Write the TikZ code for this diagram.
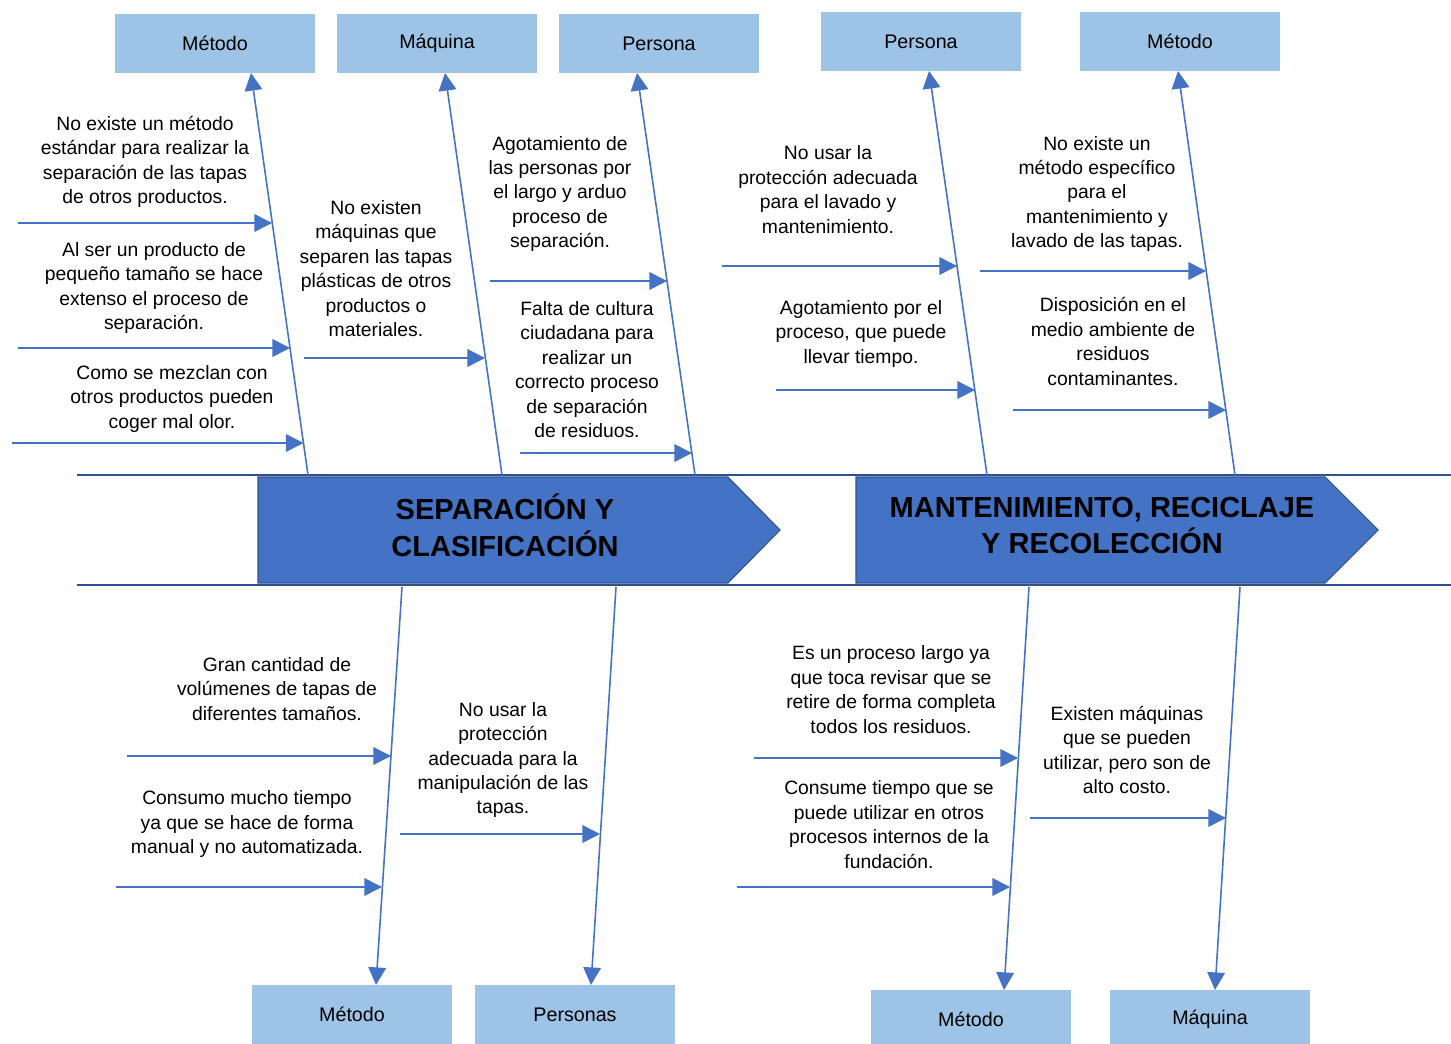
\documentclass[tikz,border=0pt]{standalone}
\usepackage{fontspec}
\setmainfont{Liberation Sans}
\usetikzlibrary{arrows.meta}
\definecolor{box_blue}{RGB}{157, 195, 230}
\definecolor{line_blue}{RGB}{68, 114, 196}
\definecolor{dark_blue}{RGB}{47, 82, 143}
\tikzstyle{cat}=[rectangle,fill=box_blue,draw=none,inner sep=0pt,
  minimum width=4cm,minimum height=1.18cm,font=\fontsize{11.2}{13}\selectfont]
\tikzstyle{cause}=[align=center,inner sep=0pt,font=\fontsize{11}{13.9}\selectfont]
\tikzstyle{head}=[align=center,inner sep=0pt,font=\fontsize{16.5}{21}\selectfont\bfseries]
\tikzstyle{rib}=[draw=line_blue,line width=0.9pt,-{Triangle[length=10pt,width=10pt]}]
\tikzstyle{spine}=[draw=dark_blue,line width=1.4pt]
\tikzstyle{chev}=[fill=line_blue,draw=dark_blue,line width=0.6pt]

\begin{document}
\begin{tikzpicture}[x=0.02cm,y=-0.02cm]
    \useasboundingbox (0,0) rectangle (1451,1044);
    % espina
    \coordinate (sl1) at (77,475);
    \coordinate (sr1) at (1451,475);
    \coordinate (sl2) at (77,585);
    \coordinate (sr2) at (1451,585);
    \draw[spine] (sl1) to (sr1);
    \draw[spine] (sl2) to (sr2);
    \path[chev] (258,477) -- (728,477) -- (780,530) -- (728,583) -- (258,583) -- cycle;
    \path[chev] (856,477) -- (1325,477) -- (1378,530) -- (1325,583) -- (856,583) -- cycle;
    \node [style=head] (sep) at (505,525.5) {SEPARACIÓN Y\\CLASIFICACIÓN};
    \node [style=head] (mant) at (1102,525.5) {MANTENIMIENTO, RECICLAJE\\Y RECOLECCIÓN};
    % categorias
    \node [style=cat] (metodo1) at (215,43.5) {Método};
    \node [style=cat] (maquina1) at (437,43.5) {Máquina};
    \node [style=cat] (persona1) at (659,43.5) {Persona};
    \node [style=cat] (persona2) at (921,41.5) {Persona};
    \node [style=cat] (metodo2) at (1180,41.5) {Método};
    \node [style=cat] (metodo3) at (352,1014.5) {Método};
    \node [style=cat] (persona3) at (575,1014.5) {Personas};
    \node [style=cat] (metodo4) at (971,1019.5) {Método};
    \node [style=cat] (maquina2) at (1210,1019.5) {Máquina};
    % espinas secundarias
    \coordinate (r1) at (308,475);
    \coordinate (r2) at (502,475);
    \coordinate (r3) at (695,475);
    \coordinate (r4) at (987,475);
    \coordinate (r5) at (1235,475);
    \coordinate (r6) at (402,587);
    \coordinate (r7) at (616,587);
    \coordinate (r8) at (1029,587);
    \coordinate (r9) at (1240,587);
    \coordinate (k1) at (251,73);
    \coordinate (k2) at (445,73);
    \coordinate (k3) at (637,73);
    \coordinate (k4) at (929,71);
    \coordinate (k5) at (1178,71);
    \coordinate (k6) at (376,985);
    \coordinate (k7) at (591,985);
    \coordinate (k8) at (1004,990);
    \coordinate (k9) at (1215,990);
    \draw[rib] (r1) to (k1);
    \draw[rib] (r2) to (k2);
    \draw[rib] (r3) to (k3);
    \draw[rib] (r4) to (k4);
    \draw[rib] (r5) to (k5);
    \draw[rib] (r6) to (k6);
    \draw[rib] (r7) to (k7);
    \draw[rib] (r8) to (k8);
    \draw[rib] (r9) to (k9);
    % causas
    \node [style=cause] (c1) at (145,162) {No existe un método\\estándar para realizar la\\separación de las tapas\\de otros productos.};
    \node [style=cause] (c2) at (154,288) {Al ser un producto de\\pequeño tamaño se hace\\extenso el proceso de\\separación.};
    \node [style=cause] (c3) at (172,399) {Como se mezclan con\\otros productos pueden\\coger mal olor.};
    \node [style=cause] (c4) at (376,268.5) {No existen\\máquinas que\\separen las tapas\\plásticas de otros\\productos o\\materiales.};
    \node [style=cause] (c5) at (560,194) {Agotamiento de\\las personas por\\el largo y arduo\\proceso de\\separación.};
    \node [style=cause] (c6) at (587,369.5) {Falta de cultura\\ciudadana para\\realizar un\\correcto proceso\\de separación\\de residuos.};
    \node [style=cause] (c7) at (828,189.5) {No usar la\\protección adecuada\\para el lavado y\\mantenimiento.};
    \node [style=cause] (c8) at (861,334) {Agotamiento por el\\proceso, que puede\\llevar tiempo.};
    \node [style=cause] (c9) at (1097,194) {No existe un\\método específico\\para el\\mantenimiento y\\lavado de las tapas.};
    \node [style=cause] (c10) at (1113,341.5) {Disposición en el\\medio ambiente de\\residuos\\contaminantes.};
    \node [style=cause] (c11) at (277,689) {Gran cantidad de\\volúmenes de tapas de\\diferentes tamaños.};
    \node [style=cause] (c12) at (247,824) {Consumo mucho tiempo\\ya que se hace de forma\\manual y no automatizada.};
    \node [style=cause] (c13) at (503,760) {No usar la\\protección\\adecuada para la\\manipulación de las\\tapas.};
    \node [style=cause] (c14) at (891,689.5) {Es un proceso largo ya\\que toca revisar que se\\retire de forma completa\\todos los residuos.};
    \node [style=cause] (c15) at (889,824.5) {Consume tiempo que se\\puede utilizar en otros\\procesos internos de la\\fundación.};
    \node [style=cause] (c16) at (1127,750) {Existen máquinas\\que se pueden\\utilizar, pero son de\\alto costo.};
    % flechas de causas
    \coordinate (a1) at (18,223);   \coordinate (b1) at (272,223);
    \coordinate (a2) at (18,348);   \coordinate (b2) at (290,348);
    \coordinate (a3) at (12,443);   \coordinate (b3) at (303.5,443);
    \coordinate (a4) at (304,358);  \coordinate (b4) at (485,358);
    \coordinate (a5) at (490,281);  \coordinate (b5) at (667,281);
    \coordinate (a6) at (520,453);  \coordinate (b6) at (692,453);
    \coordinate (a7) at (722,266);  \coordinate (b7) at (957,266);
    \coordinate (a8) at (776,390);  \coordinate (b8) at (975,390);
    \coordinate (a9) at (980,271);  \coordinate (b9) at (1206,271);
    \coordinate (a10) at (1013,410); \coordinate (b10) at (1226,410);
    \coordinate (a11) at (127,756); \coordinate (b11) at (391,756);
    \coordinate (a12) at (116,887); \coordinate (b12) at (382,887);
    \coordinate (a13) at (400,834); \coordinate (b13) at (600,834);
    \coordinate (a14) at (754,758); \coordinate (b14) at (1018,758);
    \coordinate (a15) at (737,887); \coordinate (b15) at (1010,887);
    \coordinate (a16) at (1030,818); \coordinate (b16) at (1226,818);
    \draw[rib] (a1) to (b1);
    \draw[rib] (a2) to (b2);
    \draw[rib] (a3) to (b3);
    \draw[rib] (a4) to (b4);
    \draw[rib] (a5) to (b5);
    \draw[rib] (a6) to (b6);
    \draw[rib] (a7) to (b7);
    \draw[rib] (a8) to (b8);
    \draw[rib] (a9) to (b9);
    \draw[rib] (a10) to (b10);
    \draw[rib] (a11) to (b11);
    \draw[rib] (a12) to (b12);
    \draw[rib] (a13) to (b13);
    \draw[rib] (a14) to (b14);
    \draw[rib] (a15) to (b15);
    \draw[rib] (a16) to (b16);
\end{tikzpicture}
\end{document}
